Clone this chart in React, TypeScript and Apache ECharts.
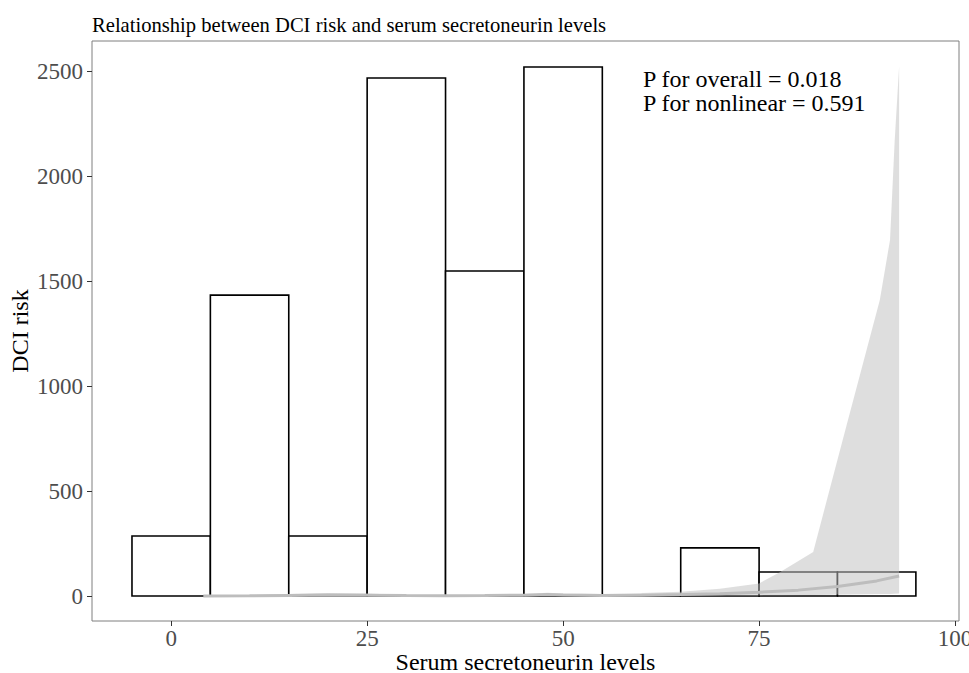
import React, { useEffect, useRef } from "react";
import * as echarts from "echarts";

const binStart = [-5, 5, 15, 25, 35, 45, 55, 65, 75, 85];
const binEnd = [5, 15, 25, 35, 45, 55, 65, 75, 85, 95];
const binCount = [286, 1433, 286, 2467, 1548, 2519, 0, 229, 114, 114];

const ribbonX = [4.1, 10, 15, 20, 25, 30, 35, 40, 45, 48, 50, 55, 60, 65, 70, 75, 77.7, 81.9, 86, 90.4, 91.7, 92.3, 92.86];
const ribbonUpper = [0, 4, 10, 14, 12, 5, 4, 5, 10, 16, 12, 10, 14, 20, 35, 60, 114, 210, 790, 1410, 1695, 2171, 2520];
const ribbonLower = [0, 0, 0, 1, 1, 0, 0, 0, 1, 2, 1, 0, 0, 1, 2, 3, 4, 5, 7, 9, 10, 11, 12];

const lineX = [4.1, 10, 15, 20, 25, 30, 35, 40, 45, 48, 50, 55, 60, 65, 70, 75, 80, 85, 90, 92.86];
const lineY = [0, 1, 3, 5, 4, 2, 1, 2, 4, 7, 5, 3, 4, 7, 11, 18, 28, 45, 72, 95];

const xTicks = [0, 25, 50, 75, 100];
const yTicks = [0, 500, 1000, 1500, 2000, 2500];

const FONT = "'Liberation Serif', 'DejaVu Serif', serif";

export default function App() {
  const ref = useRef<HTMLDivElement>(null);
  useEffect(() => {
    if (!ref.current) return;
    const chart = echarts.init(ref.current, null, { renderer: "svg" });
    const barData = binStart.map((s, i) => [s, binEnd[i], binCount[i]]);
    const ribbonData = ribbonX.map((x, i) => [x, ribbonLower[i], ribbonUpper[i]]);
    const lineData = lineX.map((x, i) => [x, lineY[i]]);
    chart.setOption({
      animation: false,
      title: {
        text: "Relationship between DCI risk and serum secretoneurin levels",
        left: 87,
        top: 9,
        textStyle: { fontFamily: FONT, fontSize: 20.6, fontWeight: "normal", color: "#000" },
      },
      grid: {
        left: 92,
        right: 10,
        top: 41,
        bottom: 52,
        containLabel: false,
        outerBoundsMode: "none",
        show: true,
        borderColor: "#7f7f7f",
        borderWidth: 1,
        backgroundColor: "#fff",
      },
      xAxis: {
        type: "value",
        min: -10.1,
        max: 100.5,
        name: "Serum secretoneurin levels",
        nameLocation: "middle",
        nameGap: 29,
        nameMoveOverlap: false,
        nameTextStyle: { fontFamily: FONT, fontSize: 24, color: "#000" },
        axisLine: { show: false, onZero: false },
        splitLine: { show: false },
        axisTick: { show: true, customValues: xTicks, length: 5, lineStyle: { color: "#333" } },
        axisLabel: {
          customValues: xTicks,
          fontFamily: FONT,
          fontSize: 23,
          color: "#4d4d4d",
          margin: 6,
          formatter: (v: number) => String(v),
        },
      },
      yAxis: {
        type: "value",
        min: -119,
        max: 2643,
        name: "DCI risk",
        nameLocation: "middle",
        nameGap: 60,
        nameMoveOverlap: false,
        nameTextStyle: { fontFamily: FONT, fontSize: 24, color: "#000" },
        axisLine: { show: false, onZero: false },
        splitLine: { show: false },
        axisTick: { show: true, customValues: yTicks, length: 5, lineStyle: { color: "#333" } },
        axisLabel: {
          customValues: yTicks,
          fontFamily: FONT,
          fontSize: 23,
          color: "#4d4d4d",
          margin: 9,
          formatter: (v: number) => String(v),
        },
      },
      series: [
        {
          type: "custom",
          data: barData,
          renderItem: (params: any, api: any) => {
            const p0 = api.coord([api.value(0), api.value(2)]);
            const p1 = api.coord([api.value(1), 0]);
            return {
              type: "rect",
              shape: { x: p0[0], y: p0[1], width: p1[0] - p0[0], height: p1[1] - p0[1] },
              style: { fill: "#fff", stroke: "#000", lineWidth: 1.6 },
            };
          },
          z: 1,
        },
        {
          type: "custom",
          data: ribbonData,
          renderItem: (params: any, api: any) => {
            if (params.dataIndex !== 0) return null;
            const up = ribbonData.map((d) => api.coord([d[0], d[2]]));
            const lo = ribbonData.map((d) => api.coord([d[0], d[1]])).reverse();
            return {
              type: "polygon",
              shape: { points: up.concat(lo) },
              style: { fill: "rgba(192,192,192,0.52)", stroke: "none" },
            };
          },
          z: 2,
        },
        {
          type: "line",
          data: lineData,
          showSymbol: false,
          symbol: "none",
          lineStyle: { color: "#bdbdbd", width: 3 },
          z: 3,
        },
      ],
      graphic: [
        {
          type: "text",
          left: 643,
          top: 67,
          style: {
            text: "P for overall = 0.018\nP for nonlinear = 0.591",
            fontFamily: FONT,
            fontSize: 24,
            fill: "#000",
            lineHeight: 24,
          },
        },
      ],
    });
    return () => chart.dispose();
  }, []);
  return (
    <div
      ref={ref}
      style={{ position: "absolute", left: 0, top: 0, width: 969, height: 673, background: "#fff" }}
    />
  );
}
